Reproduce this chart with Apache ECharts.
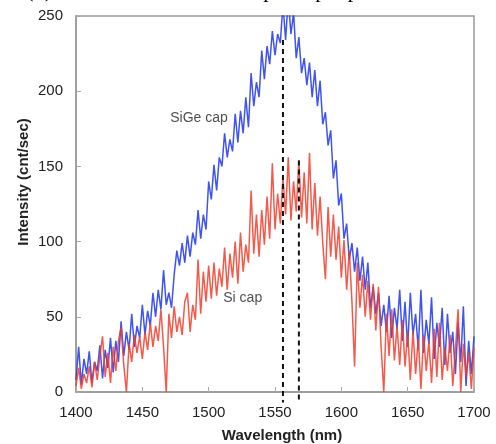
<!DOCTYPE html>
<html><head><meta charset="utf-8">
<script src="https://cdn.jsdelivr.net/npm/echarts@6/dist/echarts.min.js"></script>
<style>html,body{margin:0;padding:0;background:#fff}#c{width:496px;height:444px}</style>
</head><body><div id="c"></div>
<script>
const startWavelength = 1400, stepWavelength = 2;
const sigeCap = [8,30,5,22,12,27,6,20,14,31,9,28,16,36,13,34,20,47,24,40,28,52,30,44,36,58,38,54,44,66,50,68,55,81,58,66,56,78,94,84,99,86,104,90,106,98,121,102,118,108,140,128,151,134,156,150,172,156,168,160,185,166,187,172,196,176,212,190,206,196,227,208,230,218,240,224,238,232,258,234,262,238,252,222,236,212,222,204,219,196,214,190,207,178,186,164,174,142,154,124,132,102,112,88,99,80,96,74,90,68,86,56,70,52,66,44,58,40,64,36,56,42,68,34,60,30,66,38,52,28,68,26,48,32,63,22,46,30,56,18,52,26,40,12,46,20,57,4,34,12,37];
const siCap = [4,16,2,12,6,17,3,20,8,24,37,10,26,6,30,14,34,43,18,0,32,20,38,26,37,22,40,28,46,30,44,34,55,30,0,52,36,57,40,50,38,60,66,40,58,48,88,52,80,60,84,62,86,64,82,70,96,68,92,76,100,72,106,80,98,86,134,92,118,90,121,98,130,102,152,108,132,112,143,118,156,114,140,120,154,116,146,112,159,108,139,104,130,99,75,123,90,118,88,110,76,101,68,94,60,17,86,56,78,50,74,48,72,41,70,30,0,52,24,55,21,44,18,48,17,40,8,41,12,36,2,38,14,34,6,42,10,46,8,30,14,38,4,28,55,0,32,10,26,2,30];
const xTicks = [1400,1450,1500,1550,1600,1650,1700];
const yTicks = [0,50,100,150,200,250];
const peakLines = [ {x:1556, top:234, bottom:-7}, {x:1568, top:154, bottom:-6} ];
const labels = [ {text:'SiGe cap', x:1471, y:182}, {text:'Si cap', x:1511, y:62.5} ];

const toPairs = arr => arr.map((v,i)=>[startWavelength + i*stepWavelength, v]);
const chart = echarts.init(document.getElementById('c'));
const series = [
  {type:'line', data: toPairs(sigeCap), symbol:'none', lineStyle:{color:'#2a40f0', width:1.5, opacity:0.9}, animation:false, z:2},
  {type:'line', data: toPairs(siCap), symbol:'none', lineStyle:{color:'#f23c2a', width:1.5, opacity:0.85}, animation:false, z:3}
];
peakLines.forEach(p => series.push({type:'line', data:[[p.x,p.top],[p.x,p.bottom]], symbol:'none', clip:false, lineStyle:{color:'#111', width:2, type:[5,4]}, animation:false, z:5}));
series.push({type:'scatter', data: labels.map(l=>({value:[l.x,l.y], name:l.text})), symbolSize:0, animation:false, z:6,
  label:{show:true, position:'right', distance:0, formatter: p=>p.name, color:'#222', fontSize:14, fontFamily:'Liberation Sans, Arial'}});

chart.setOption({
  backgroundColor:'#fff',
  animation:false,
  grid:{left:76, right:22, top:16, bottom:52, show:true, borderColor:'#999', borderWidth:1.5},
  xAxis:{type:'value', min:1400, max:1700, interval:50,
    axisLine:{show:true, lineStyle:{color:'#999', width:1.5}},
    axisTick:{show:true, inside:true, length:5, lineStyle:{color:'#aaa'}},
    axisLabel:{color:'#222', fontSize:15, margin:13, fontFamily:'Liberation Sans, Arial', formatter: v => String(v)},
    splitLine:{show:false}},
  yAxis:{type:'value', min:0, max:250, interval:50,
    axisLine:{show:true, lineStyle:{color:'#999', width:1.5}},
    axisTick:{show:true, inside:true, length:5, lineStyle:{color:'#aaa'}},
    axisLabel:{color:'#222', fontSize:15, margin:13, fontFamily:'Liberation Sans, Arial', formatter: v => String(v)},
    splitLine:{show:false}},
  graphic:[
    {type:'text', left:-6, top:-20, style:{text:'are (b) at the center of SiGe cap sample p', font:'22px "Liberation Serif", serif', fill:'#000'}},
    {type:'text', x:24, y:182, rotation:Math.PI/2, style:{text:'Intensity (cnt/sec)', font:'bold 15px "Liberation Sans", Arial', fill:'#222', align:'center', verticalAlign:'middle'}},
    {type:'text', x:282, y:436, style:{text:'Wavelength (nm)', font:'bold 15px "Liberation Sans", Arial', fill:'#222', align:'center', verticalAlign:'middle'}}
  ],
  series: series
});
</script></body></html>
